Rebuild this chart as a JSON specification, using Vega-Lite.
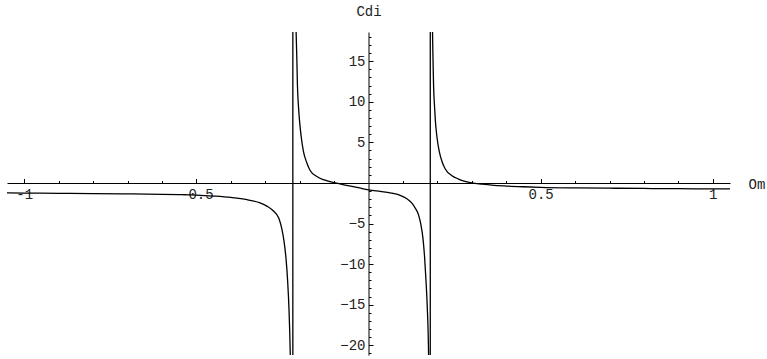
{
  "$schema": "https://vega.github.io/schema/vega-lite/v6.json",
  "autosize": {"type": "none"},
  "padding": {"left": 7, "top": 32, "right": 37, "bottom": 4},
  "width": 723,
  "height": 323,
  "background": "white",
  "config": {
    "view": {"stroke": null},
    "axis": {
      "grid": false,
      "domainColor": "black",
      "domainWidth": 1,
      "tickColor": "black",
      "tickWidth": 1,
      "labelFont": "'Liberation Mono', 'Courier New', monospace",
      "labelFontSize": 14,
      "labelColor": "#222",
      "labelOverlap": false,
      "labelFlush": false,
      "labelBound": false,
      "titleFont": "'Liberation Mono', 'Courier New', monospace",
      "titleFontSize": 14,
      "titleFontWeight": "normal",
      "titleColor": "#222"
    }
  },
  "data": {
    "values": [
      {"x": -1.05, "y": -1.23}, {"x": -1.0, "y": -1.25}, {"x": -0.9, "y": -1.28}, {"x": -0.8, "y": -1.31},
      {"x": -0.7, "y": -1.35}, {"x": -0.6, "y": -1.40}, {"x": -0.55, "y": -1.44}, {"x": -0.5, "y": -1.50},
      {"x": -0.45, "y": -1.62}, {"x": -0.4, "y": -1.79}, {"x": -0.353, "y": -2.06}, {"x": -0.315, "y": -2.46},
      {"x": -0.295, "y": -2.85}, {"x": -0.276, "y": -3.45}, {"x": -0.261, "y": -4.3}, {"x": -0.252, "y": -5.6},
      {"x": -0.245, "y": -7.3}, {"x": -0.239, "y": -9.6}, {"x": -0.235, "y": -12.0}, {"x": -0.231, "y": -15.5},
      {"x": -0.2276, "y": -20.5}, {"x": -0.225, "y": -28}, {"x": -0.2225, "y": -55}, {"x": -0.2199, "y": -400},
      {"x": -0.2196, "y": 400}, {"x": -0.2175, "y": 60}, {"x": -0.215, "y": 30}, {"x": -0.2125, "y": 22},
      {"x": -0.2102, "y": 18.5}, {"x": -0.2081, "y": 15.2}, {"x": -0.2064, "y": 12.0}, {"x": -0.2035, "y": 9.5},
      {"x": -0.2006, "y": 7.8}, {"x": -0.1956, "y": 5.74}, {"x": -0.189, "y": 3.89}, {"x": -0.179, "y": 2.46},
      {"x": -0.1695, "y": 1.54}, {"x": -0.15, "y": 0.80}, {"x": -0.1308, "y": 0.40}, {"x": -0.115, "y": 0.18},
      {"x": -0.097, "y": 0.0}, {"x": -0.08, "y": -0.15}, {"x": -0.06, "y": -0.33}, {"x": -0.03, "y": -0.58},
      {"x": 0.0, "y": -0.85}, {"x": 0.034, "y": -1.05}, {"x": 0.063, "y": -1.22}, {"x": 0.092, "y": -1.52},
      {"x": 0.1116, "y": -1.95}, {"x": 0.126, "y": -2.48}, {"x": 0.1357, "y": -3.1}, {"x": 0.1453, "y": -3.93},
      {"x": 0.1523, "y": -5.16}, {"x": 0.1581, "y": -6.8}, {"x": 0.1628, "y": -9.07}, {"x": 0.1669, "y": -11.95},
      {"x": 0.1706, "y": -15.2}, {"x": 0.1744, "y": -21}, {"x": 0.1765, "y": -35}, {"x": 0.1782, "y": -90},
      {"x": 0.1793, "y": -400},
      {"x": 0.1796, "y": 400}, {"x": 0.1815, "y": 70}, {"x": 0.1835, "y": 30}, {"x": 0.186, "y": 18.5},
      {"x": 0.1875, "y": 15.0}, {"x": 0.189, "y": 12.0}, {"x": 0.192, "y": 9.3}, {"x": 0.194, "y": 7.8},
      {"x": 0.199, "y": 5.6}, {"x": 0.2055, "y": 3.9}, {"x": 0.2134, "y": 2.65}, {"x": 0.223, "y": 1.72},
      {"x": 0.2424, "y": 0.89}, {"x": 0.2616, "y": 0.48}, {"x": 0.28, "y": 0.2}, {"x": 0.30, "y": 0.0},
      {"x": 0.33, "y": -0.15}, {"x": 0.358, "y": -0.27}, {"x": 0.40, "y": -0.38}, {"x": 0.45, "y": -0.47},
      {"x": 0.5, "y": -0.54}, {"x": 0.6, "y": -0.61}, {"x": 0.7, "y": -0.65}, {"x": 0.8, "y": -0.68},
      {"x": 0.9, "y": -0.71}, {"x": 1.0, "y": -0.73}, {"x": 1.05, "y": -0.74}
    ]
  },
  "mark": {"type": "line", "color": "black", "strokeWidth": 1.3, "clip": true, "interpolate": "monotone"},
  "encoding": {
    "x": {
      "field": "x",
      "type": "quantitative",
      "scale": {"domain": [-1.05, 1.05], "nice": false, "zero": false},
      "axis": {
        "orient": "bottom",
        "offset": -172,
        "values": [-1, -0.9, -0.8, -0.7, -0.6, -0.5, -0.4, -0.3, -0.2, -0.1, 0.1, 0.2, 0.3, 0.4, 0.5, 0.6, 0.7, 0.8, 0.9, 1],
        "tickSize": {"condition": {"test": "datum.value == -1 || datum.value == -0.5 || datum.value == 0.5 || datum.value == 1", "value": -4.5}, "value": -2.5},
        "labelExpr": "datum.value == -1 ? '-1' : datum.value == -0.5 ? '-0.5' : datum.value == 0.5 ? '0.5' : datum.value == 1 ? '1' : ''",
        "labelAlign": "center",
        "labelBaseline": "top",
        "labelPadding": 9,
        "title": "Om",
        "titleX": 741,
        "titleY": 1.5,
        "titleAlign": "left",
        "titleBaseline": "middle"
      }
    },
    "y": {
      "field": "y",
      "type": "quantitative",
      "scale": {"domain": [-21.2, 18.6], "nice": false, "zero": false},
      "axis": {
        "orient": "left",
        "offset": -361.5,
        "values": [-21, -20, -19, -18, -17, -16, -15, -14, -13, -12, -11, -10, -9, -8, -7, -6, -5, -4, -3, -2, -1, 1, 2, 3, 4, 5, 6, 7, 8, 9, 10, 11, 12, 13, 14, 15, 16, 17, 18],
        "tickSize": {"condition": {"test": "datum.value % 5 == 0", "value": -4.5}, "value": -2.5},
        "labelExpr": "datum.value % 5 == 0 ? format(datum.value, 'd') : ''",
        "labelAlign": "right",
        "labelBaseline": "middle",
        "labelPadding": 8,
        "title": "Cdi",
        "titleAngle": 0,
        "titleX": 0,
        "titleY": -20.5,
        "titleAlign": "center",
        "titleBaseline": "middle"
      }
    }
  }
}
